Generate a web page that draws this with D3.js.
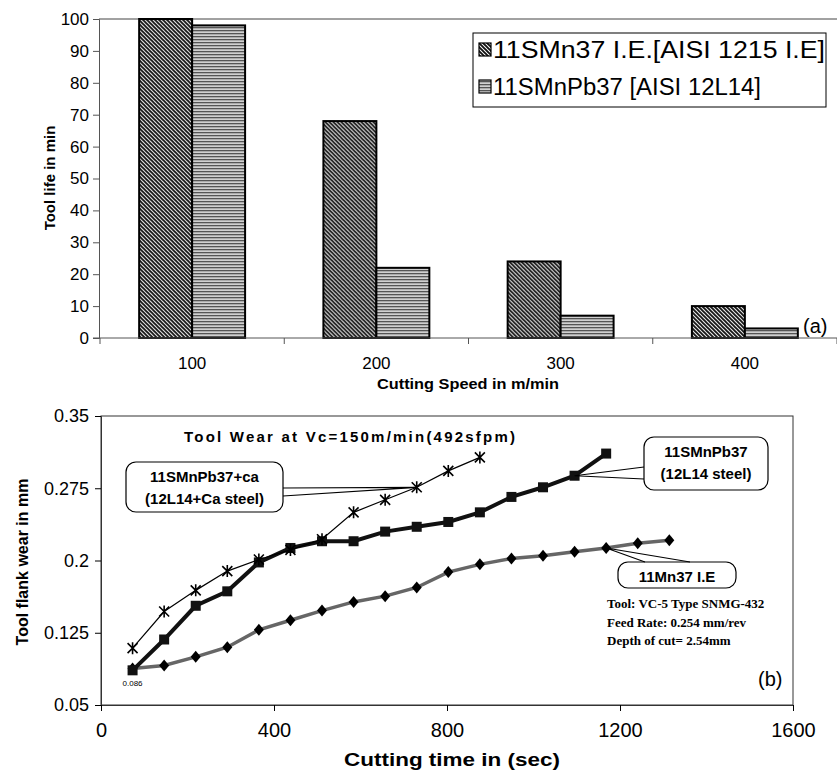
<!DOCTYPE html>
<html lang="en">
<head>
    <meta charset="UTF-8">
    <title>Tool life and tool wear</title>
    <script src="https://d3js.org/d3.v7.min.js"></script>
    <style>
        body { margin: 0; background: #fff; }
        svg { display: block; font-family: "Liberation Sans", Arial, sans-serif; }
        .bold { font-weight: bold; }
        .note { font-family: "Liberation Serif", "Times New Roman", serif; font-weight: bold; font-size: 13px; }
    </style>
</head>
<body>
    <svg id="chart" width="837" height="771"></svg>

    <script>
        // ---- data (a) ----
        const speeds = ["100", "200", "300", "400"];
        const barSeries = ["11SMn37 I.E.[AISI 1215 I.E]", "11SMnPb37 [AISI 12L14]"];
        const lifeMn37 = [100, 68, 24, 10];
        const lifePb37 = [98, 22, 7, 3];
        const lifeTicks = [0, 10, 20, 30, 40, 50, 60, 70, 80, 90, 100];

        // ---- data (b) ----
        const timeCa = [73, 146, 219, 292, 365, 438, 511, 584, 657, 730, 803, 876];
        const wearCa = [0.109, 0.147, 0.169, 0.189, 0.201, 0.211, 0.222, 0.250, 0.263, 0.276, 0.293, 0.307];
        const timePb = [73, 146, 219, 292, 365, 438, 511, 584, 657, 730, 803, 876, 949, 1022, 1095, 1168];
        const wearPb = [0.086, 0.118, 0.153, 0.168, 0.198, 0.213, 0.220, 0.220, 0.230, 0.235, 0.240, 0.250, 0.266, 0.276, 0.288, 0.311];
        const timeMn = [73, 146, 219, 292, 365, 438, 511, 584, 657, 730, 803, 876, 949, 1022, 1095, 1168, 1241, 1314];
        const wearMn = [0.088, 0.091, 0.100, 0.110, 0.128, 0.138, 0.148, 0.157, 0.163, 0.172, 0.188, 0.196, 0.202, 0.205, 0.209, 0.213, 0.218, 0.221];
        const timeTicks = [0, 400, 800, 1200, 1600];
        const wearTicks = [0.05, 0.125, 0.2, 0.275, 0.35];

        const svg = d3.select("#chart");

        // patterns for the bars
        const defs = svg.append("defs");
        const diag = defs.append("pattern")
            .attr("id", "diag")
            .attr("patternUnits", "userSpaceOnUse")
            .attr("width", 4).attr("height", 4);
        diag.append("rect").attr("width", 4).attr("height", 4).attr("fill", "#fff");
        diag.append("path")
            .attr("d", "M-1,-1 L5,5 M-1,3 L1,5 M3,-1 L5,1")
            .attr("stroke", "#111").attr("stroke-width", 1.9);

        const horiz = defs.append("pattern")
            .attr("id", "horiz")
            .attr("patternUnits", "userSpaceOnUse")
            .attr("width", 6).attr("height", 3);
        horiz.append("rect").attr("width", 6).attr("height", 3).attr("fill", "#d0d0d0");
        horiz.append("rect").attr("y", 0).attr("width", 6).attr("height", 1.3).attr("fill", "#555");

        // ================= chart (a) =================
        const a = { left: 99, right: 837, top: 19, bottom: 338 };

        const x0 = d3.scaleBand()
            .domain(speeds)
            .range([a.left + 1, a.right])
            .paddingInner(0.425)
            .paddingOuter(0.2125);
        const x1 = d3.scaleBand()
            .domain([0, 1])
            .range([0, x0.bandwidth()]);
        const yA = d3.scaleLinear().domain([0, 100]).range([a.bottom, a.top]);

        const gA = svg.append("g");

        // plot frame top and axes
        gA.append("line")
            .attr("x1", a.left).attr("x2", a.right)
            .attr("y1", a.top).attr("y2", a.top)
            .attr("stroke", "#444").attr("stroke-width", 1);

        const yAxisA = d3.axisLeft(yA).tickValues(lifeTicks).tickSize(6).tickPadding(4);
        gA.append("g")
            .attr("transform", `translate(${a.left},0)`)
            .call(yAxisA)
            .call(g => g.select(".domain").attr("stroke", "#555"))
            .call(g => g.selectAll(".tick line").attr("stroke", "#555"))
            .call(g => g.selectAll("text").attr("font-size", 17).attr("font-family", "Liberation Sans, Arial"));

        // bars
        const rows = speeds.map((s, i) => ({ speed: s, vals: [lifeMn37[i], lifePb37[i]] }));
        const groups = gA.selectAll(".grp")
            .data(rows)
            .enter().append("g")
            .attr("transform", d => `translate(${x0(d.speed)},0)`);
        groups.selectAll("rect")
            .data(d => d.vals.map((v, k) => ({ v, k })))
            .enter().append("rect")
            .attr("x", d => x1(d.k))
            .attr("y", d => yA(d.v))
            .attr("width", x1.bandwidth())
            .attr("height", d => yA(0) - yA(d.v))
            .attr("fill", d => d.k === 0 ? "url(#diag)" : "url(#horiz)")
            .attr("stroke", "#000")
            .attr("stroke-width", 2);

        // x axis (category boundaries as ticks)
        gA.append("line")
            .attr("x1", a.left - 6).attr("x2", a.right)
            .attr("y1", a.bottom).attr("y2", a.bottom)
            .attr("stroke", "#555");
        const step = x0.step();
        const boundaries = d3.range(speeds.length + 1).map(i => x0.range()[0] + i * step);
        gA.selectAll(".xtick")
            .data(boundaries)
            .enter().append("line")
            .attr("x1", d => d).attr("x2", d => d)
            .attr("y1", a.bottom).attr("y2", a.bottom + 6)
            .attr("stroke", "#555");
        gA.selectAll(".xlab")
            .data(speeds)
            .enter().append("text")
            .attr("x", d => x0(d) + x0.bandwidth() / 2)
            .attr("y", 369)
            .attr("text-anchor", "middle")
            .attr("font-size", 17)
            .text(d => d);

        gA.append("text")
            .attr("class", "bold")
            .attr("x", 468).attr("y", 389)
            .attr("text-anchor", "middle")
            .attr("font-size", 15)
            .attr("textLength", 182)
            .attr("lengthAdjust", "spacingAndGlyphs")
            .text("Cutting Speed in m/min");

        gA.append("text")
            .attr("class", "bold")
            .attr("transform", "translate(55,178) rotate(-90)")
            .attr("text-anchor", "middle")
            .attr("font-size", 15)
            .text("Tool life in min");

        gA.append("text")
            .attr("x", 803).attr("y", 333)
            .attr("font-size", 20)
            .text("(a)");

        // legend
        const leg = gA.append("g").attr("transform", "translate(473,33)");
        leg.append("rect")
            .attr("width", 353).attr("height", 74)
            .attr("fill", "#fff").attr("stroke", "#000").attr("stroke-width", 1);
        const legLen = [332, 268];
        barSeries.forEach((name, i) => {
            const yy = 17 + i * 37;
            leg.append("rect")
                .attr("x", 6).attr("y", yy - 7)
                .attr("width", 12).attr("height", 13)
                .attr("fill", i === 0 ? "url(#diag)" : "url(#horiz)")
                .attr("stroke", "#000").attr("stroke-width", 1.2);
            leg.append("text")
                .attr("x", 20).attr("y", yy + 8)
                .attr("font-size", 23)
                .attr("textLength", legLen[i])
                .attr("lengthAdjust", "spacingAndGlyphs")
                .text(name);
        });

        // ================= chart (b) =================
        const b = { left: 101, right: 793, top: 416, bottom: 705 };
        const xB = d3.scaleLinear().domain([0, 1600]).range([b.left, b.right]);
        const yB = d3.scaleLinear().domain([0.05, 0.35]).range([b.bottom, b.top]);

        const gB = svg.append("g");

        gB.append("rect")
            .attr("x", b.left).attr("y", b.top)
            .attr("width", b.right - b.left).attr("height", b.bottom - b.top)
            .attr("fill", "none").attr("stroke", "#333").attr("stroke-width", 1);

        gB.append("g")
            .attr("transform", `translate(${b.left},0)`)
            .call(d3.axisLeft(yB).tickValues(wearTicks).tickFormat(d => String(+d.toFixed(3))).tickSize(6).tickPadding(6))
            .call(g => g.select(".domain").attr("stroke", "#333"))
            .call(g => g.selectAll("text").attr("font-size", 18).attr("font-family", "Liberation Sans, Arial"));

        gB.append("g")
            .attr("transform", `translate(0,${b.bottom})`)
            .call(d3.axisBottom(xB).tickValues(timeTicks).tickFormat(d3.format("d")).tickSize(6).tickPadding(12))
            .call(g => g.select(".domain").attr("stroke", "#333"))
            .call(g => g.selectAll("text").attr("font-size", 20).attr("font-family", "Liberation Sans, Arial"));

        gB.append("text")
            .attr("class", "bold")
            .attr("x", 452).attr("y", 766)
            .attr("text-anchor", "middle")
            .attr("font-size", 18)
            .attr("textLength", 216)
            .attr("lengthAdjust", "spacingAndGlyphs")
            .text("Cutting time in (sec)");

        gB.append("text")
            .attr("class", "bold")
            .attr("transform", "translate(28,562) rotate(-90)")
            .attr("text-anchor", "middle")
            .attr("font-size", 16)
            .text("Tool flank wear in mm");

        gB.append("text")
            .attr("class", "bold")
            .attr("x", 184).attr("y", 442)
            .attr("font-size", 15)
            .attr("textLength", 331)
            .attr("lengthAdjust", "spacing")
            .text("Tool Wear at Vc=150m/min(492sfpm)");

        const line = d3.line().x(d => xB(d[0])).y(d => yB(d[1]));
        const mnPts = timeMn.map((t, i) => [t, wearMn[i]]);
        const pbPts = timePb.map((t, i) => [t, wearPb[i]]);
        const caPts = timeCa.map((t, i) => [t, wearCa[i]]);

        // 11Mn37 I.E (diamonds, grey textured line)
        gB.append("path").datum(mnPts)
            .attr("d", line).attr("fill", "none")
            .attr("stroke", "#666").attr("stroke-width", 3.5);
        gB.selectAll(".dm").data(mnPts).enter().append("path")
            .attr("transform", d => `translate(${xB(d[0])},${yB(d[1])})`)
            .attr("d", "M0,-6 L5,0 L0,6 L-5,0 Z")
            .attr("fill", "#000");

        // 11SMnPb37 (squares, thick line)
        gB.append("path").datum(pbPts)
            .attr("d", line).attr("fill", "none")
            .attr("stroke", "#111").attr("stroke-width", 4);
        gB.selectAll(".sq").data(pbPts).enter().append("rect")
            .attr("x", d => xB(d[0]) - 5).attr("y", d => yB(d[1]) - 5)
            .attr("width", 10).attr("height", 10)
            .attr("fill", "#111");

        // 11SMnPb37+ca (asterisks, thin line)
        gB.append("path").datum(caPts)
            .attr("d", line).attr("fill", "none")
            .attr("stroke", "#000").attr("stroke-width", 1.2);
        gB.selectAll(".st").data(caPts).enter().append("path")
            .attr("transform", d => `translate(${xB(d[0])},${yB(d[1])})`)
            .attr("d", "M-5,-5 L5,5 M-5,5 L5,-5 M0,-6 L0,6")
            .attr("stroke", "#000").attr("stroke-width", 1.6).attr("fill", "none");

        // start value label
        gB.append("text")
            .attr("x", xB(timePb[0])).attr("y", yB(wearPb[0]) + 16)
            .attr("text-anchor", "middle")
            .attr("font-size", 8)
            .text("0.086");

        // callouts
        function callout(box, target, w1, w2, lines) {
            const g = gB.append("g");
            g.append("rect")
                .attr("x", box.x).attr("y", box.y)
                .attr("width", box.w).attr("height", box.h)
                .attr("rx", 10).attr("ry", 10)
                .attr("fill", "#fff").attr("stroke", "#000").attr("stroke-width", 1.2);
            g.append("path")
                .attr("d", `M${w1[0]},${w1[1]} L${target[0]},${target[1]} L${w2[0]},${w2[1]}`)
                .attr("fill", "none").attr("stroke", "#000").attr("stroke-width", 1.2);
            lines.forEach((t, i) => {
                g.append("text")
                    .attr("class", "bold")
                    .attr("x", box.x + box.w / 2)
                    .attr("y", box.y + 20 + i * 22)
                    .attr("text-anchor", "middle")
                    .attr("font-size", 15)
                    .text(t);
            });
        }
        callout({ x: 126, y: 462, w: 157, h: 50 }, [xB(timeCa[9]), yB(wearCa[9])],
            [283, 488], [283, 496], ["11SMnPb37+ca", "(12L14+Ca steel)"]);
        callout({ x: 644, y: 437, w: 124, h: 53 }, [xB(timePb[14]), yB(wearPb[14])],
            [644, 467], [644, 479], ["11SMnPb37", "(12L14 steel)"]);
        callout({ x: 618, y: 562, w: 118, h: 26 }, [xB(timeMn[15]), yB(wearMn[15])],
            [645, 562], [690, 562], ["11Mn37 I.E"]);

        // test conditions
        const notes = ["Tool: VC-5 Type SNMG-432", "Feed Rate: 0.254 mm/rev", "Depth of cut= 2.54mm"];
        gB.selectAll(".note").data(notes).enter().append("text")
            .attr("class", "note")
            .attr("x", 607)
            .attr("y", (d, i) => 608 + i * 18.5)
            .text(d => d);

        gB.append("text")
            .attr("x", 758).attr("y", 686)
            .attr("font-size", 20)
            .text("(b)");
    </script>
</body>
</html>
